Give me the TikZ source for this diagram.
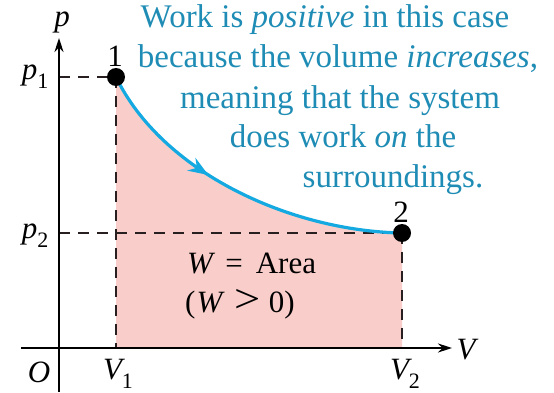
\documentclass[tikz,border=0pt]{standalone}
\usepackage{fontspec}
\usepackage{graphicx}
\setmainfont{Liberation Serif}
\newfontfamily\tnr{Liberation Serif}
\usetikzlibrary{arrows.meta,decorations.markings}
\definecolor{fillpink}{RGB}{249,206,202}
\definecolor{curveblue}{RGB}{20,170,225}
\definecolor{textteal}{RGB}{30,140,180}
\definecolor{dashgray}{RGB}{40,32,32}
\tikzset{
  axis/.style={line width=1.8pt,-{Stealth[length=14pt,width=9pt]}},
  guide/.style={line width=1.6pt,dash pattern=on 11pt off 8pt,draw=dashgray},
  dotnode/.style={circle,fill=black,inner sep=0pt,minimum size=18pt},
  lbl/.style={font=\tnr\fontsize{31}{35}\selectfont,inner sep=0pt},
  note/.style={font=\tnr\fontsize{33}{39}\selectfont,text=textteal,inner sep=0pt,anchor=base},
}
\newcommand{\sub}[1]{\raisebox{-0.3em}{\upshape\fontsize{22}{24}\selectfont #1}}
\begin{document}
\begin{tikzpicture}[x=1pt,y=-1pt]
\useasboundingbox (0,0) rectangle (554,393);
% coordinates
\coordinate (O) at (59,348);
\coordinate (ytop) at (59,38);
\coordinate (ybot) at (59,392);
\coordinate (xleft) at (21,348);
\coordinate (xright) at (452,348);
\coordinate (P1) at (116,77);
\coordinate (P2) at (402,233);
\coordinate (A1) at (59,77);
\coordinate (A2) at (59,233);
\coordinate (B1) at (116,348);
\coordinate (B2) at (402,348);
% area
\fill[fillpink] (P1) .. controls (162,172) and (290,231) .. (P2) -- (B2) -- (B1) -- cycle;
% guides
\draw[guide] (A1) -- (P1);
\draw[guide] (A2) -- (P2);
\draw[guide] (P1) -- (B1);
\draw[guide] (P2) -- (B2);
% axes
\draw[line width=1.8pt] (ybot) -- (O);
\draw[axis] (O) -- (ytop);
\draw[line width=1.8pt] (xleft) -- (O);
\draw[axis] (O) -- (xright);
% curve
\draw[curveblue,line width=3.2pt,
  decoration={markings,mark=at position 0.4 with {\arrow{Stealth[length=20pt,width=15pt]}}},
  postaction={decorate}]
  (P1) .. controls (162,172) and (290,231) .. (P2);
% dots
\node[dotnode] (d1) at (P1) {};
\node[dotnode] (d2) at (P2) {};
\node[lbl] (n1) at (115,56) {1};
\node[lbl] (n2) at (401,212) {2};
% axis labels
\node[lbl] (pl) at (62,22) {\itshape p};
\node[lbl] (Vl) at (466,350) {\itshape V};
\node[lbl] (Ol) at (39,372) {\itshape O};
\node[lbl] (p1l) at (35,77) {\itshape p\sub{1}};
\node[lbl] (p2l) at (35,236) {\itshape p\sub{2}};
\node[lbl] (V1l) at (118,374) {\itshape V\sub{1}};
\node[lbl] (V2l) at (405,374) {\itshape V\sub{2}};
% area labels
\node[lbl,anchor=base west] (w1) at (187,273) {\itshape W\/\upshape\hspace{10pt}=\hspace{13pt}Area};
\node[lbl,anchor=base west] (w2) at (185,312) {(\hspace{1pt}\itshape W\/\upshape\hspace{10pt}\scalebox{1.5}[1.3]{>}\hspace{8pt}0)};
% note
\node[note] (t1) at (325,28) {Work is \textit{positive} in this case};
\node[note] (t2) at (338,68) {because the volume \textit{increases},};
\node[note] (t3) at (340,109) {meaning that the system};
\node[note] (t4) at (343,148) {does work \textit{on} the};
\node[note] (t5) at (393,187) {surroundings.};
\end{tikzpicture}
\end{document}
